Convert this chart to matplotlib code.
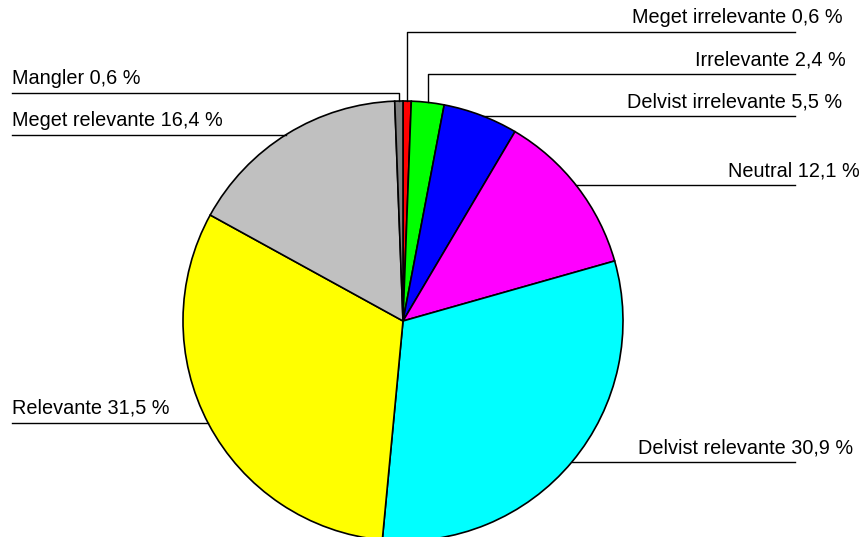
import numpy as np
import matplotlib.pyplot as plt

plt.rcParams['font.family'] = ['Liberation Sans', 'DejaVu Sans']

labels = ['Meget irrelevante', 'Irrelevante', 'Delvist irrelevante', 'Neutral',
          'Delvist relevante', 'Relevante', 'Meget relevante', 'Mangler']
values = [0.6, 2.4, 5.5, 12.1, 30.9, 31.5, 16.4, 0.6]
colors = ['#ff0000', '#00ff00', '#0000ff', '#ff00ff',
          '#00ffff', '#ffff00', '#c0c0c0', '#808080']

W, H = 862, 537
CX, CY, R = 403, 321, 220   # pie centre / radius in pixels (y from top)

# label layout: side, leader line y (px from top), text left x, vertical leader?
layout = {
    'Meget irrelevante':   ('r', 32, 632, True),
    'Irrelevante':         ('r', 74, 695, True),
    'Delvist irrelevante': ('r', 116, 627, False),
    'Neutral':             ('r', 185, 728, False),
    'Delvist relevante':   ('r', 462, 638, False),
    'Relevante':           ('l', 423, 12, False),
    'Meget relevante':     ('l', 135, 12, False),
    'Mangler':             ('l', 93, 12, True),
}
RIGHT_END = 795
LEFT_END = 12


def fy(y):
    return H - y


fig = plt.figure(figsize=(W / 100, H / 100), dpi=100)
ax = fig.add_axes([0, 0, 1, 1])
ax.pie(values, colors=colors, startangle=90, counterclock=False,
       center=(CX, fy(CY)), radius=R,
       wedgeprops=dict(edgecolor='black', linewidth=1.2))
ax.set_xlim(0, W)
ax.set_ylim(0, H)
ax.set_aspect('equal')
ax.axis('off')

cum = np.cumsum([0] + values[:-1])
for lab, v, c0 in zip(labels, values, cum):
    side, ly, tx, vert = layout[lab]
    mid = np.deg2rad((c0 + v / 2) * 3.6)
    if vert:
        px = CX + R * np.sin(mid)
        py = CY - R * np.cos(mid)
        end = RIGHT_END if side == 'r' else LEFT_END
        ax.plot([px, px, end], [fy(py), fy(ly), fy(ly)], color='black', lw=1)
    else:
        dx = np.sqrt(R ** 2 - (ly - CY) ** 2)
        if side == 'r':
            ax.plot([CX + dx, RIGHT_END], [fy(ly), fy(ly)], color='black', lw=1)
        else:
            ax.plot([LEFT_END, CX - dx], [fy(ly), fy(ly)], color='black', lw=1)
    txt = f'{lab} {v:.1f} %'.replace('.', ',')
    ax.text(tx, fy(ly - 9), txt, fontsize=14.3, ha='left', va='baseline')

fig.savefig('out.png', dpi=100)
